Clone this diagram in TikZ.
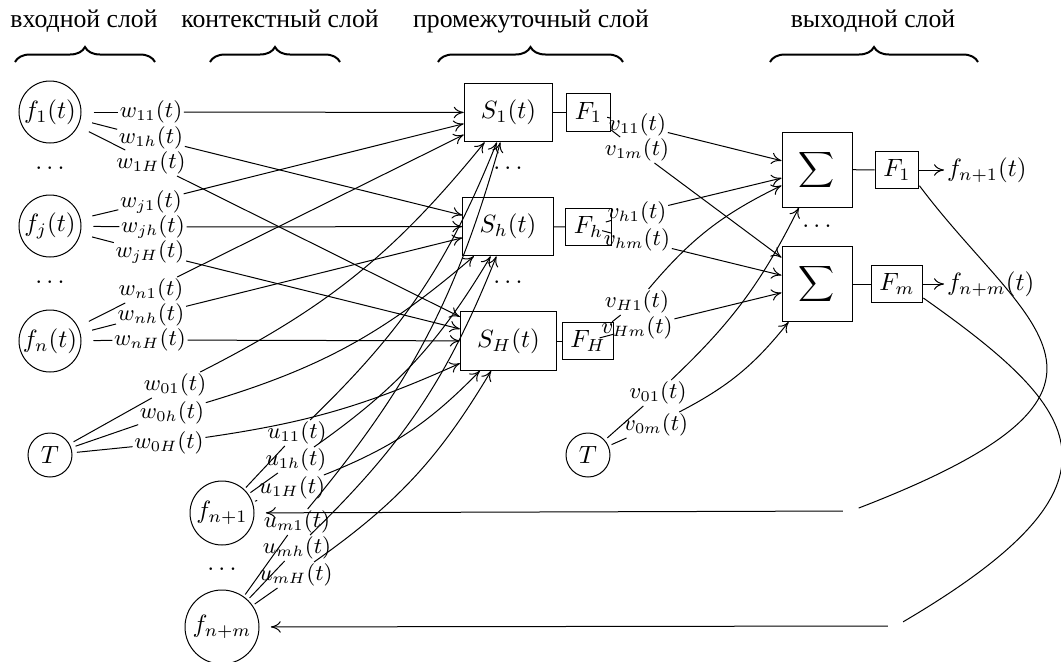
\documentclass[tikz,border=0pt]{standalone}
\usepackage{fontspec}
\newfontfamily\cyrfont{Liberation Serif}
\usetikzlibrary{decorations.pathreplacing,arrows.meta}
\begin{document}
\begin{tikzpicture}[x=0.4pt,y=0.4pt,
  >={To[length=4pt,width=4.6pt]},
  crc/.style={circle,draw,inner sep=0pt},
  lab/.style={inner sep=0.5pt,font=\small},
  sbox/.style={draw,inner sep=6.7pt},
  fbox/.style={draw},
  sumbox/.style={draw,minimum width=28pt,minimum height=30pt,inner sep=0pt},
  hdr/.style={font=\cyrfont\fontsize{10.3}{12}\selectfont,anchor=base},
  brc/.style={decorate,decoration={brace,amplitude=6pt},line width=0.8pt},
  gapnode/.style={circle,inner sep=0pt,minimum size=6.2pt},
  dotsnode/.style={inner sep=0pt},
  bendT/.style={bend right=12},
  bendU/.style={bend right=12}]
\useasboundingbox (0,0) rectangle (1061,-661);

% headers
\node[hdr] (h1) at (84,-27) {входной слой};
\node[hdr] (h2) at (280,-27) {контекстный слой};
\node[hdr] (h3) at (531,-27) {промежуточный слой};
\node[hdr] (h4) at (873,-27) {выходной слой};
\draw[brc] (15,-62) -- (155,-62);
\draw[brc] (210,-62) -- (340,-62);
\draw[brc] (438,-62) -- (623,-62);
\draw[brc] (770,-62) -- (978,-62);

% input layer
\node[crc,minimum size=24.8pt,outer sep=5pt] (f1) at (50,-112) {$f_1(t)$};
\node[dotsnode] (d1) at (50,-168) {$\ldots$};
\node[crc,minimum size=24.8pt,outer sep=5pt] (fj) at (50,-226) {$f_j(t)$};
\node[dotsnode] (d2) at (50,-282) {$\ldots$};
\node[crc,minimum size=24.8pt,outer sep=5pt] (fn) at (50,-341) {$f_n(t)$};
\node[crc,minimum size=17.6pt,outer sep=2pt] (T) at (50,-455) {$T$};

% context layer
\node[crc,minimum size=25.6pt,outer sep=1.2pt] (fn1) at (222,-513) {$f_{n+1}$};
\node[dotsnode] (d3) at (222,-569) {$\ldots$};
\node[crc,minimum size=29.6pt,outer sep=1.2pt] (fnm) at (222,-627) {$f_{n+m}$};

% hidden layer
\node[sbox] (S1) at (508.5,-112.5) {$S_1(t)$};
\node[dotsnode] (d4) at (508,-168) {$\ldots$};
\node[sbox] (Sh) at (508,-226.5) {$S_h(t)$};
\node[dotsnode] (d5) at (508,-282) {$\ldots$};
\node[sbox] (SH) at (508.5,-341) {$S_H(t)$};
\node[fbox] (F1) at (588.5,-112.5) {$F_1$};
\node[fbox] (Fh) at (588.5,-227) {$F_h$};
\node[fbox] (FH) at (588,-341) {$F_H$};

% output layer
\node[sumbox] (E1) at (817,-169.5) {$\displaystyle\sum$};
\node[dotsnode] (d6) at (817,-226) {$\ldots$};
\node[sumbox] (E2) at (817,-284) {$\displaystyle\sum$};
\node[fbox] (G1) at (897,-170) {$F_1$};
\node[fbox] (Gm) at (897,-284) {$F_m$};
\node[anchor=west,inner sep=1pt] (o1) at (944,-170) {$f_{n+1}(t)$};
\node[anchor=west,inner sep=1pt] (om) at (944,-284) {$f_{n+m}(t)$};
\node[crc,minimum size=17.6pt,outer sep=1.5pt] (To) at (588,-455) {$T$};

% labels
\node[lab] (w11) at (151,-112) {$w_{11}(t)$};
\node[lab] (w1h) at (151,-138) {$w_{1h}(t)$};
\node[lab] (w1H) at (151,-163) {$w_{1H}(t)$};
\node[lab] (wj1) at (151,-202) {$w_{j1}(t)$};
\node[lab] (wjh) at (153,-227) {$w_{jh}(t)$};
\node[lab] (wjH) at (150,-252) {$w_{jH}(t)$};
\node[lab] (wn1) at (151,-290) {$w_{n1}(t)$};
\node[lab] (wnh) at (151,-315) {$w_{nh}(t)$};
\node[lab] (wnH) at (150,-340) {$w_{nH}(t)$};
\node[lab] (w01) at (175,-385) {$w_{01}(t)$};
\node[lab] (w0h) at (172,-413) {$w_{0h}(t)$};
\node[lab] (w0H) at (169,-443) {$w_{0H}(t)$};
\node[lab] (u11) at (297,-433) {$u_{11}(t)$};
\node[lab] (u1h) at (296,-460) {$u_{1h}(t)$};
\node[lab] (u1H) at (292,-488) {$u_{1H}(t)$};
\node[lab] (um1) at (297,-522) {$u_{m1}(t)$};
\node[lab] (umh) at (297,-548) {$u_{mh}(t)$};
\node[lab] (umH) at (296,-575) {$u_{mH}(t)$};
\node[lab] (v11) at (637.5,-125) {$v_{11}(t)$};
\node[lab] (v1m) at (637,-150) {$v_{1m}(t)$};
\node[lab] (vh1) at (637,-213) {$v_{h1}(t)$};
\node[lab] (vhm) at (637,-240) {$v_{hm}(t)$};
\node[lab] (vH1) at (637,-302) {$v_{H1}(t)$};
\node[lab] (vHm) at (637,-328) {$v_{Hm}(t)$};
\node[lab] (v01) at (658,-393) {$v_{01}(t)$};
\node[lab] (v0m) at (656,-425) {$v_{0m}(t)$};

% input -> hidden
\draw (f1) -- (w11); \draw[->] (w11) -- (S1);
\draw (f1) -- (w1h); \draw[->] (w1h) -- (Sh);
\draw (f1) -- (w1H); \draw[->] (w1H) -- (SH);
\draw (fj) -- (wj1); \draw[->] (wj1) -- (S1);
\draw (fj) -- (wjh); \draw[->] (wjh) -- (Sh);
\draw (fj) -- (wjH); \draw[->] (wjH) -- (SH);
\draw (fn) -- (wn1); \draw[->] (wn1) -- (S1);
\draw (fn) -- (wnh); \draw[->] (wnh) -- (Sh);
\draw (fn) -- (wnH); \draw[->] (wnH) -- (SH);
\draw (T) -- (w01); \draw[->] (w01) to[bendT] (S1);
\draw (T) -- (w0h); \draw[->] (w0h) to[bendT] (Sh);
\draw (T) -- (w0H); \draw[->] (w0H) to[bend right=8] (SH);

% context -> hidden
\draw (fn1) -- (u11); \draw[->] (u11) to[bendU] (S1);
\draw (fn1) -- (u1h); \draw[->] (u1h) to[bendU] (Sh);
\draw (fn1) -- (u1H); \draw[->] (u1H) to[bendU] (SH);
\draw (fnm) -- (um1); \draw[->] (um1) to[bendU] (S1);
\draw (fnm) -- (umh); \draw[->] (umh) to[bendU] (Sh);
\draw (fnm) -- (umH); \draw[->] (umH) to[bendU] (SH);

% hidden internal
\draw (S1) -- (F1);
\draw (Sh) -- (Fh);
\draw (SH) -- (FH);

% hidden -> output
\draw (F1) -- (v11); \draw[->] (v11) -- (E1);
\draw (F1) -- (v1m); \draw[->] (v1m) -- (E2);
\draw (Fh) -- (vh1); \draw[->] (vh1) -- (E1);
\draw (Fh) -- (vhm); \draw[->] (vhm) -- (E2);
\draw (FH) -- (vH1); \draw[->] (vH1) to[bend left=12] (E1);
\draw (FH) -- (vHm); \draw[->] (vHm) -- (E2);
\draw (To) -- (v01); \draw[->] (v01) to[bend right=10] (E1);
\draw (To) -- (v0m); \draw[->] (v0m) to[bend right=12] (E2);

% output
\draw (E1) -- (G1); \draw[->] (G1) -- (o1);
\draw (E2) -- (Gm); \draw[->] (Gm) -- (om);

% feedback
\node[gapnode] (c1) at (851,-511) {};
\node[gapnode] (c2) at (896,-626) {};
\draw (G1.-35) .. controls (1025,-327) and (1170,-388) .. (c1);
\draw[->,shorten >=3.5pt] (c1) -- (fn1);
\draw (Gm.-28) .. controls (1082,-410) and (1141,-482) .. (c2);
\draw[->,shorten >=3.5pt] (c2) -- (fnm);
\end{tikzpicture}
\end{document}
